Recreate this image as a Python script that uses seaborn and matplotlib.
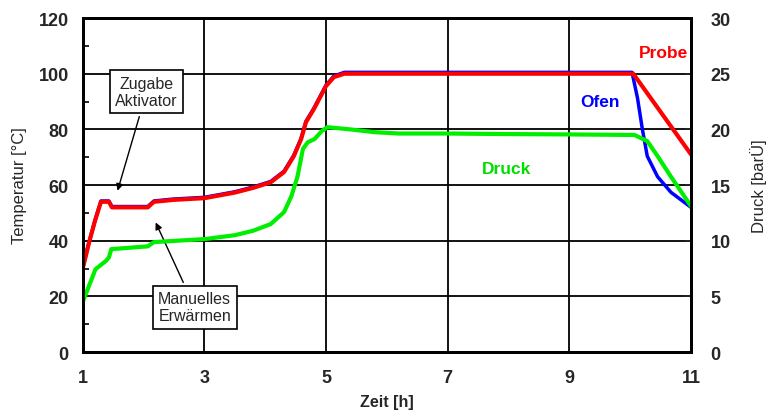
import numpy as np
import pandas as pd
import matplotlib
matplotlib.use("Agg")
import matplotlib.pyplot as plt
import seaborn as sns

# Probe (sample) temperature [°C]
t_probe = [1.0, 1.1, 1.2, 1.3, 1.43, 1.48, 2.07, 2.17, 2.5, 3.0, 3.5, 3.8, 4.09, 4.31,
           4.47, 4.59, 4.67, 4.8, 5.0, 5.13, 5.3, 6.0, 7.0, 8.0, 9.0, 10.05, 11.0]
probe = [30, 39, 47, 54, 54, 52, 52, 54, 54.7, 55.3, 57.3, 59.0, 61, 64.7,
         70.4, 76.5, 82.6, 87.3, 95.6, 98.8, 100, 100, 100, 100, 100, 100, 71]

# Ofen (oven) temperature [°C]
t_ofen = [1.0, 1.1, 1.2, 1.3, 1.43, 1.48, 2.07, 2.17, 2.5, 3.0, 3.5, 3.8, 4.09, 4.31,
          4.47, 4.59, 4.67, 4.8, 5.0, 5.13, 5.3, 6.0, 7.0, 8.0, 9.0, 10.03, 10.12,
          10.2, 10.28, 10.45, 10.67, 11.0]
ofen = [30.2, 39.2, 47.2, 54.3, 54.3, 52.3, 52.3, 54.3, 55.0, 55.6, 57.6, 59.3, 61.3, 65.0,
        70.7, 76.8, 82.9, 87.6, 95.9, 99.2, 100.5, 100.5, 100.5, 100.5, 100.5, 100.5, 91.2,
        80, 70.4, 63, 57.4, 52]

# Druck (pressure) [barÜ]
t_druck = [1.0, 1.21, 1.38, 1.43, 1.47, 2.07, 2.17, 3.0, 3.5, 3.8, 4.09, 4.31, 4.43,
           4.53, 4.62, 4.7, 4.81, 4.93, 5.02, 5.4, 5.8, 6.2, 7.0, 8.0, 9.0, 10.07,
           10.28, 10.45, 10.67, 11.0]
druck = [4.5, 7.45, 8.18, 8.5, 9.25, 9.5, 9.88, 10.15, 10.5, 10.9, 11.5, 12.58, 14.0,
         15.75, 18.25, 18.85, 19.13, 19.85, 20.2, 20.0, 19.75, 19.63, 19.63, 19.58,
         19.55, 19.5, 18.95, 17.6, 15.75, 13.1]

sns.set_style("white")
plt.rcParams['font.family'] = ['Liberation Sans', 'DejaVu Sans']

df_probe = pd.DataFrame({'Zeit': t_probe, 'T': probe})
df_ofen = pd.DataFrame({'Zeit': t_ofen, 'T': ofen})
df_druck = pd.DataFrame({'Zeit': t_druck, 'p': druck})

fig = plt.figure(figsize=(7.73, 4.14), dpi=100)
ax = fig.add_axes([0.107, 0.147, 0.787, 0.807])

sns.lineplot(x='Zeit', y='T', data=df_ofen, color='#0000ff', linewidth=2.5, ax=ax, zorder=3)
sns.lineplot(x='Zeit', y='T', data=df_probe, color='#ff0000', linewidth=3, ax=ax, zorder=4)

ax.set_xlim(1, 11)
ax.set_ylim(0, 120)
ax.set_xticks([1, 3, 5, 7, 9, 11])
ax.set_xticks([2, 4, 6, 8, 10], minor=True)
ax.set_yticks(range(0, 121, 20))
ax.set_yticks(range(10, 120, 20), minor=True)
ax.grid(True, which='major', color='black', linewidth=1.3)
ax.set_axisbelow(True)
ax.tick_params(which='major', direction='in', length=0, labelsize=13, pad=12)
ax.tick_params(axis='y', which='major', pad=10)
ax.tick_params(which='minor', direction='in', length=4, width=1.2, color='black')
for lbl in ax.get_xticklabels() + ax.get_yticklabels():
    lbl.set_fontweight('bold')
for s in ax.spines.values():
    s.set_linewidth(2)
    s.set_color('black')
ax.set_xlabel('Zeit [h]', fontsize=11.5, fontweight='bold', labelpad=6)
ax.set_ylabel('Temperatur [°C]', fontsize=12, labelpad=8)

ax2 = ax.twinx()
sns.lineplot(x='Zeit', y='p', data=df_druck, color='#00ee00', linewidth=3, ax=ax2)
ax2.set_ylim(0, 30)
ax2.set_yticks(range(0, 31, 5))
ax2.tick_params(which='major', direction='in', length=4, width=1.2, labelsize=13, pad=14)
for lbl in ax2.get_yticklabels():
    lbl.set_fontweight('bold')
ax2.set_ylabel('Druck [barÜ]', fontsize=12, labelpad=14)
for s in ax2.spines.values():
    s.set_linewidth(2)
    s.set_color('black')

# series labels
ax.text(10.95, 107.5, 'Probe', color='#ff0000', fontsize=12.5, fontweight='bold', ha='right', va='center')
ax.text(9.5, 90, 'Ofen', color='#0000ff', fontsize=12.5, fontweight='bold', ha='center', va='center')
ax.text(7.97, 66, 'Druck', color='#00dd00', fontsize=12.5, fontweight='bold', ha='center', va='center')

# annotations
box = dict(boxstyle='square,pad=0.35', fc='white', ec='black', lw=1.2)
ax.annotate('Zugabe\nAktivator', xy=(1.56, 57), xytext=(2.05, 93.5),
            ha='center', va='center', fontsize=11.5, bbox=box, zorder=6, linespacing=1.15,
            arrowprops=dict(arrowstyle='-|>', color='black', lw=1, mutation_scale=10))
ax.annotate('Manuelles\nErwärmen', xy=(2.18, 47.5), xytext=(2.84, 16.2),
            ha='center', va='center', fontsize=11.5, bbox=box, zorder=6, linespacing=1.15,
            arrowprops=dict(arrowstyle='-|>', color='black', lw=1, mutation_scale=10))

plt.savefig('out.png', dpi=100)
